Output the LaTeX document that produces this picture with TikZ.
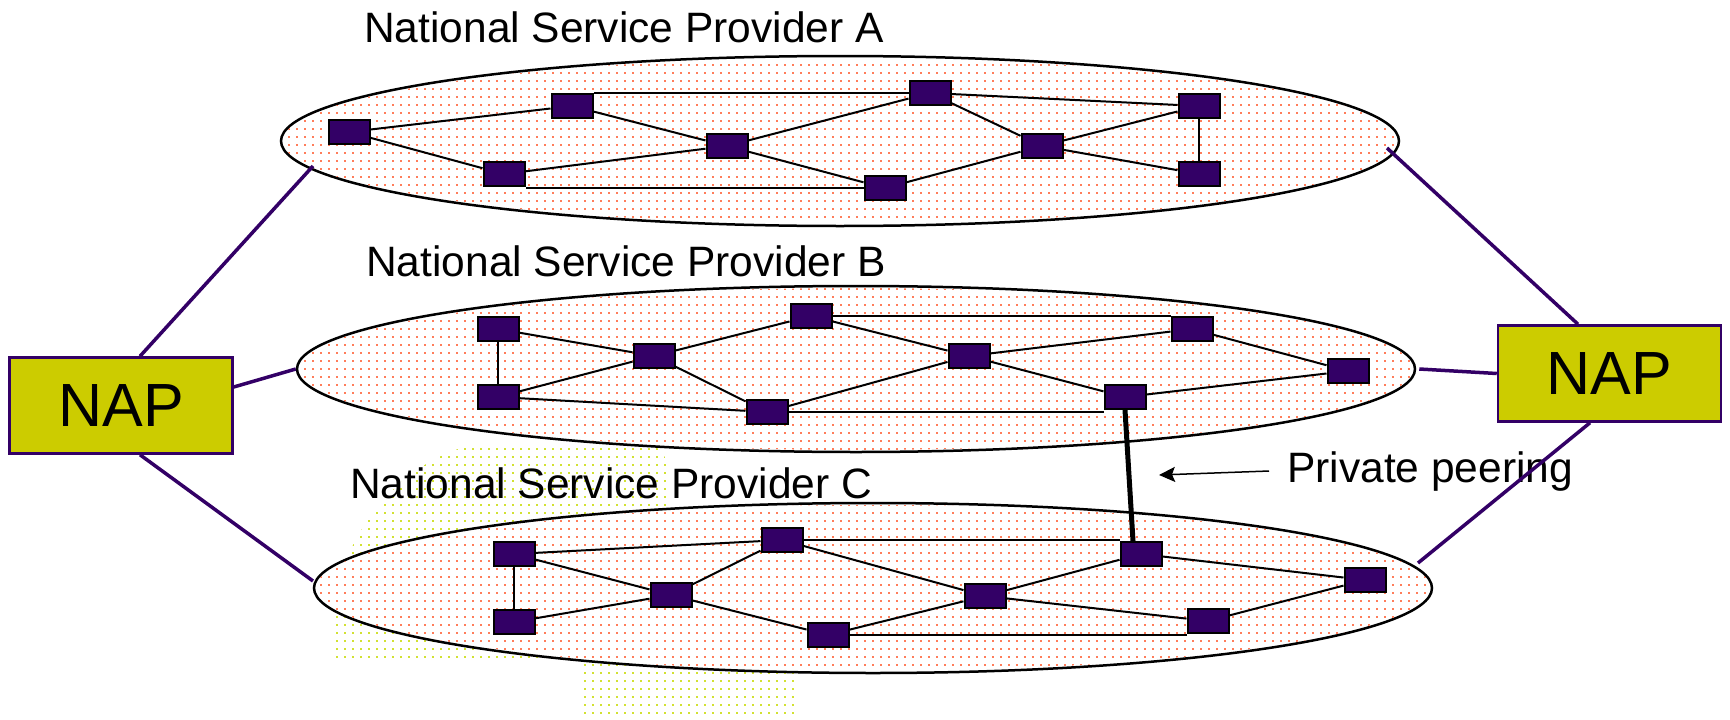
\documentclass[tikz,border=0pt]{standalone}
\usepackage{fontspec}
\setmainfont{Liberation Sans}
\usepackage{xcolor}
\usetikzlibrary{arrows.meta, shapes.geometric}
\definecolor{routerfill}{HTML}{330066}
\definecolor{napfill}{HTML}{CCCC00}
\definecolor{dotred}{RGB}{255,125,90}
\definecolor{dotyellow}{RGB}{210,225,50}
% rows of dots inside an ellipse: centre x, centre y, rx, ry, first row, last row
\newcommand{\speckle}[6]{\begin{scope}
\clip (#1,#2) ellipse [x radius=#3pt-2pt, y radius=#4pt-2pt];
\pgfmathtruncatemacro\rowtwo{#5+8}
\foreach \y in {#5,\rowtwo,...,#6} {\draw[dotrow, dotred] (280,\y) -- (1440,\y);}
\end{scope}}

\begin{document}
\begin{tikzpicture}[x=1pt, y=-1pt,
  router/.style={rectangle, draw=black, line width=2pt, fill=routerfill, minimum width=41pt, minimum height=24pt, inner sep=0pt},
  provider/.style={ellipse, draw=black, line width=2.5pt, fill=white, minimum width=1118pt, minimum height=170pt, inner sep=0pt},
  nap/.style={rectangle, draw=routerfill, line width=2.5pt, fill=napfill, minimum width=223pt, minimum height=96pt, font=\fontsize{61}{70}\selectfont},
  title/.style={anchor=base west, inner sep=0pt, font=\fontsize{42.5}{50}\selectfont},
  link/.style={line width=2pt},
  dotrow/.style={line width=1.7pt, dash pattern=on 1.7pt off 6.3pt},
  napline/.style={draw=routerfill, line width=3.5pt}]
\useasboundingbox (0,0) rectangle (1730,720);
% yellow dotted patch behind provider C
\begin{scope}
\clip (333,662) -- (335,605) .. controls (345,520) and (420,442) .. (500,442) -- (630,442) .. controls (655,442) and (667,450) .. (667,470) -- (667,560) -- (800,600) -- (800,720) -- (580,720) -- (580,662) -- cycle;
\foreach \y in {441,449,...,720} {\draw[dotrow, dotyellow] (328,\y) -- (800,\y);}
\end{scope}
\node [provider] (nspA) at (840,141) {};
\node [provider, minimum height=166pt] (nspB) at (856,369) {};
\node [provider] (nspC) at (873,588) {};
\speckle{840}{141}{559}{85}{57}{225}
\speckle{856}{369}{559}{83}{289}{449}
\speckle{873}{588}{559}{85}{505}{673}
\node [title] (titleA) at (364,42) {National Service Provider A};
\node [title] (titleB) at (366,276) {National Service Provider B};
\node [title] (titleC) at (350,498) {National Service Provider C};
% provider A
\node [router] (a1) at (349,132) {};
\node [router] (a2) at (572,106) {};
\node [router] (a3) at (727,146) {};
\node [router] (a4) at (504,174) {};
\node [router] (a5) at (930,93) {};
\node [router] (a6) at (885,188) {};
\node [router] (a7) at (1042,146) {};
\node [router] (a8) at (1199,106) {};
\node [router] (a9) at (1199,174) {};
\draw[link] (a1) edge (a2) (a1) edge (a4) (a2) edge (a3) (a3) edge (a4) (a3) edge (a5) (a3) edge (a6) (a5) edge (a7) (a5) edge (a8) (a6) edge (a7) (a7) edge (a8) (a7) edge (a9) (a8) edge (a9);
\draw[link] (a5.west) -- (a5.west -| a2.east) (a6.west) -- (a6.west -| a4.east);
% provider B
\node [router] (b1) at (498,329) {};
\node [router] (b2) at (498,397) {};
\node [router] (b3) at (654,356) {};
\node [router] (b4) at (811,316) {};
\node [router] (b5) at (767,412) {};
\node [router] (b6) at (969,356) {};
\node [router] (b7) at (1192,329) {};
\node [router] (b8) at (1348,371) {};
\node [router] (b9) at (1125,397) {};
\draw[link] (b1) edge (b2) (b1) edge (b3) (b2) edge (b3) (b2) edge (b5) (b3) edge (b4) (b3) edge (b5) (b4) edge (b6) (b5) edge (b6) (b6) edge (b7) (b6) edge (b9) (b7) edge (b8) (b9) edge (b8);
\draw[link] (b4.east) -- (b4.east -| b7.west) (b5.east) -- (b5.east -| b9.west);
% provider C
\node [router] (c1) at (514,554) {};
\node [router] (c2) at (514,622) {};
\node [router] (c3) at (671,595) {};
\node [router] (c4) at (782,540) {};
\node [router] (c5) at (828,635) {};
\node [router] (c6) at (985,596) {};
\node [router] (c7) at (1141,554) {};
\node [router] (c8) at (1365,580) {};
\node [router] (c9) at (1208,621) {};
\draw[link] (c1) edge (c2) (c1) edge (c3) (c1) edge (c4) (c2) edge (c3) (c3) edge (c4) (c3) edge (c5) (c4) edge (c6) (c5) edge (c6) (c6) edge (c7) (c6) edge (c9) (c7) edge (c8) (c9) edge (c8);
\draw[link] (c4.east) -- (c4.east -| c7.west) (c5.east) -- (c5.east -| c9.west);
% private peering
\draw[line width=5pt] (b9.south) -- ([xshift=-8pt]c7.north);
\node [title] (peer) at (1287,482) {Private peering};
\coordinate (peertip) at (1159,475);
\draw[-{Stealth[length=16pt, width=15pt, inset=3pt]}, line width=1.5pt] ([xshift=-18pt]peer.west) -- (peertip);
% access points
\node [nap] (napL) at (121,405.5) {NAP};
\node [nap] (napR) at (1609.5,373.5) {NAP};
\coordinate (Aw) at (313,166);
\coordinate (Ae) at (1387,148);
\coordinate (Cw) at (313,581);
\coordinate (Ce) at (1418,563);
\draw[napline] ([xshift=19pt]napL.north) -- (Aw);
\draw[napline] ([yshift=18.5pt]napL.east) -- (nspB.west);
\draw[napline] ([xshift=19pt]napL.south) -- (Cw);
\draw[napline] ([xshift=-31.5pt]napR.north) -- (Ae);
\draw[napline] (napR.west) -- ([xshift=3pt]nspB.east);
\draw[napline] ([xshift=-19.5pt]napR.south) -- (Ce);
\end{tikzpicture}
\end{document}
